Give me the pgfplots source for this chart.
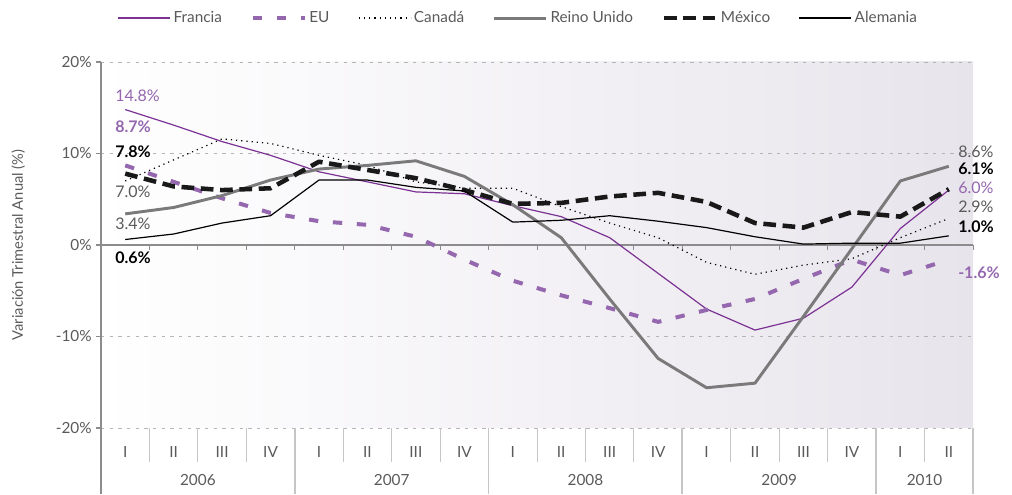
\documentclass[border=0pt]{standalone}
\usepackage{fontspec}
\setmainfont{Lato}
\usepackage{pgfplots}
\pgfplotsset{compat=1.18}

\definecolor{francia}{HTML}{7B3294}
\definecolor{eu}{HTML}{9467AE}
\definecolor{reino}{HTML}{7A7A7A}
\definecolor{txt}{HTML}{5A5A5A}
\definecolor{bgR}{HTML}{E8E4EC}
\definecolor{gridc}{HTML}{B5B5B5}
\definecolor{sepc}{HTML}{C6C6C6}
\definecolor{axisgray}{HTML}{8C8C8C}

% Quarterly data, 2006-I to 2010-II (x = quarter index + 0.5)
\pgfplotstableread{
x     fra    eu    can    uk     mex   ale
0.5   14.8   8.7   7.0    3.4    7.8   0.6
1.5   13.1   6.9   9.3    4.1    6.4   1.2
2.5   11.3   5.1   11.6   5.4    6.0   2.4
3.5   9.8    3.5   11.1   7.1    6.2   3.2
4.5   8.0    2.6   9.8    8.3    9.1   7.1
5.5   6.9    2.2   8.7    8.7    8.2   7.1
6.5   5.8    0.9   6.9    9.2    7.3   6.3
7.5   5.6   -1.6   6.2    7.5    6.0   5.9
8.5   4.3   -3.9   6.2    4.4    4.5   2.5
9.5   3.1   -5.5   4.2    0.8    4.6   2.7
10.5  0.8   -6.9   2.4   -5.9    5.3   3.2
11.5 -3.1   -8.4   0.8   -12.4   5.7   2.6
12.5 -7.0   -7.1  -1.9   -15.6   4.7   1.9
13.5 -9.3   -5.9  -3.2   -15.1   2.4   0.9
14.5 -8.0   -3.7  -2.2   -7.8    1.9   0.1
15.5 -4.6   -1.6  -1.5   -0.4    3.6   0.2
16.5  1.8   -3.3   0.8    7.0    3.1   0.2
17.5  6.0   -1.6   2.9    8.6    6.1   1.0
}\datatable

\begin{document}
\begin{tikzpicture}
\path (0pt,0pt) rectangle (759pt,370.5pt);
\begin{axis}[
  at={(75.75pt,49.5pt)}, anchor=south west,
  scale only axis, width=654pt, height=274.5pt,
  xmin=0, xmax=18, ymin=-20, ymax=20,
  clip=false,
  axis line style={draw=none},
  axis background/.style={left color=white, right color=bgR},
  ytick={-20,-10,0,10,20},
  yticklabels={-20\%,-10\%,0\%,10\%,20\%},
  ytick pos=left,
  xtick={0.5,1.5,...,17.5},
  xticklabels={I,II,III,IV,I,II,III,IV,I,II,III,IV,I,II,III,IV,I,II},
  xtick style={draw=none},
  ytick style={draw=axisgray, line width=0.8pt},
  tick align=outside, major tick length=3.5pt,
  ymajorgrids, grid style={gridc, line width=0.7pt, dash pattern=on 2.5pt off 4pt},
  tick label style={font=\fontsize{11.5}{13}\selectfont, text=txt},
  xticklabel style={anchor=center, yshift=-14.25pt},
  ylabel={Variación Trimestral Anual (\%)},
  ylabel style={at={(axis description cs:-0.0948,0.5)}, anchor=center,
    font=\fontsize{11}{13}\selectfont, text=txt},
  legend columns=6,
  legend style={at={(0.479,1.12)}, anchor=center, draw=none, fill=none,
    font=\fontsize{11.5}{13}\selectfont, text=txt,
    /tikz/every even column/.append style={column sep=19.5pt}},
  legend image code/.code={\draw[#1] (0pt,0pt) -- (39pt,0pt);},
]
% zero line with quarter ticks
\draw[axisgray, line width=1.1pt] (axis cs:0,0) -- (axis cs:18,0);
\pgfplotsinvokeforeach{1,...,18}{\draw[axisgray, line width=0.6pt] (axis cs:#1,0) -- ++(0pt,-4pt);}
% category table below the plot
\pgfplotsinvokeforeach{1,2,3,5,6,7,9,10,11,13,14,15,17}{\draw[sepc, line width=0.75pt] (axis cs:#1,-20) -- ++(0pt,-25.5pt);}
\pgfplotsinvokeforeach{4,8,12,16,18}{\draw[sepc, line width=1.4pt] (axis cs:#1,-20) -- ++(0pt,-49.5pt);}
\draw[axisgray, line width=1.1pt] (axis cs:0,20) -- (axis cs:0,-20) -- ++(0pt,-49.5pt);
\begin{scope}[every node/.style={text=txt, font=\fontsize{11.5}{13}\selectfont, yshift=-39pt}]
\node at (axis cs:2,-20) {2006};
\node at (axis cs:6,-20) {2007};
\node at (axis cs:10,-20) {2008};
\node at (axis cs:14,-20) {2009};
\node at (axis cs:17,-20) {2010};
\end{scope}

\addplot[francia, line width=0.9pt, line join=round] table[x=x,y=fra] {\datatable};
\addlegendentry{Francia}
\addplot[eu, line width=3pt, dash pattern=on 7pt off 11pt] table[x=x,y=eu] {\datatable};
\addlegendentry{EU}
\addplot[black, line width=0.9pt, dash pattern=on 0.9pt off 3pt] table[x=x,y=can] {\datatable};
\addlegendentry{Canadá}
\addplot[reino, line width=2.2pt, line join=round] table[x=x,y=uk] {\datatable};
\addlegendentry{Reino Unido}
\addplot[black!90, line width=3.4pt, dash pattern=on 9.5pt off 5pt, line join=round] table[x=x,y=mex] {\datatable};
\addlegendentry{México}
\addplot[black, line width=0.9pt, line join=round] table[x=x,y=ale] {\datatable};
\addlegendentry{Alemania}

% value labels, start of the period
\begin{scope}[every node/.style={anchor=west, inner sep=0pt, font=\fontsize{12}{14}\selectfont}]
\node[text=eu] at (axis cs:0.29,16.3) {14.8\%};
\node[text=eu, font=\fontsize{12}{14}\selectfont\bfseries] at (axis cs:0.29,12.9) {8.7\%};
\node[text=black, font=\fontsize{12}{14}\selectfont\bfseries] at (axis cs:0.29,10.2) {7.8\%};
\node[text=txt] at (axis cs:0.29,5.8) {7.0\%};
\node[text=txt] at (axis cs:0.29,2.3) {3.4\%};
\node[text=black, font=\fontsize{12}{14}\selectfont\bfseries] at (axis cs:0.29,-1.4) {0.6\%};
% end of the period
\node[text=txt] at (axis cs:17.69,10.2) {8.6\%};
\node[text=black, font=\fontsize{12}{14}\selectfont\bfseries] at (axis cs:17.69,8.3) {6.1\%};
\node[text=eu] at (axis cs:17.69,6.2) {6.0\%};
\node[text=txt] at (axis cs:17.69,4.2) {2.9\%};
\node[text=black, font=\fontsize{12}{14}\selectfont\bfseries] at (axis cs:17.69,2.0) {1.0\%};
\node[text=eu, font=\fontsize{12}{14}\selectfont\bfseries] at (axis cs:17.69,-3.0) {-1.6\%};
\end{scope}
\end{axis}
\end{tikzpicture}
\end{document}
